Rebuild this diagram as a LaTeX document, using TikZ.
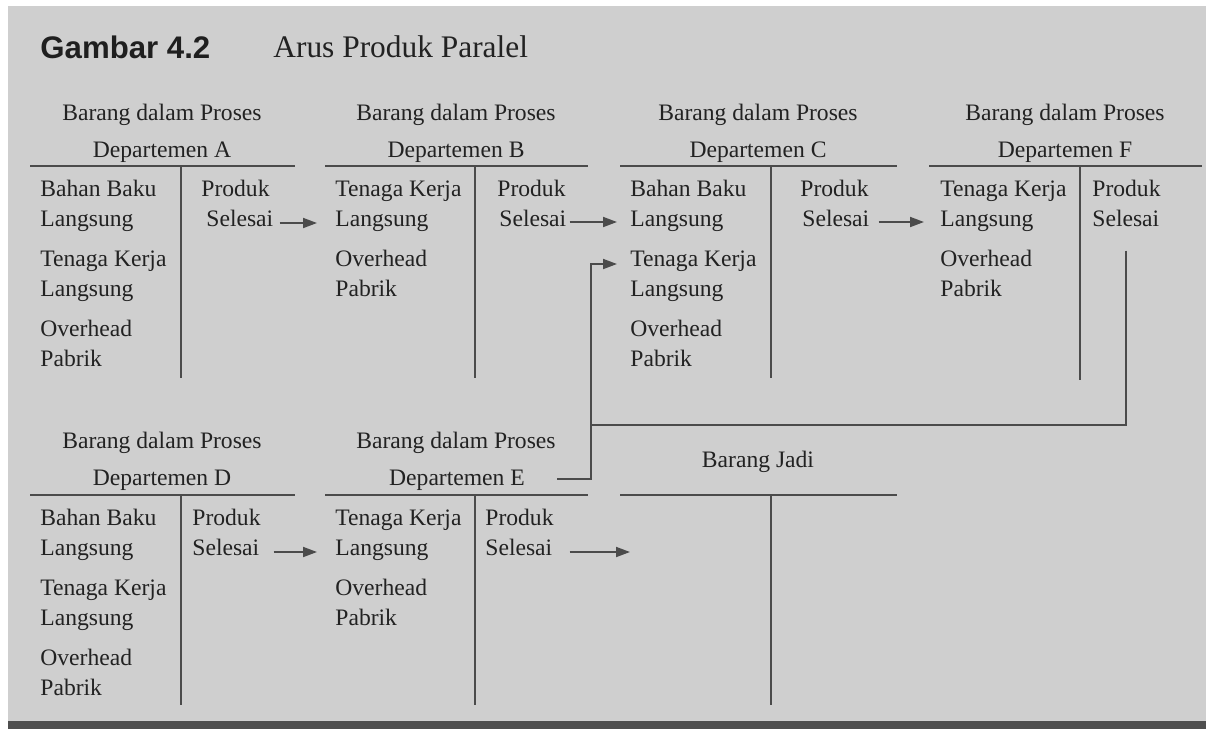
\documentclass[tikz,border=0pt]{standalone}
\usepackage{fontspec}
\setmainfont{Liberation Serif}
\newfontfamily\figsans{Liberation Sans}
\usetikzlibrary{positioning, arrows.meta, calc}
\definecolor{fgBack}{RGB}{207,207,207}
\definecolor{fgBar}{RGB}{78,78,78}
\definecolor{fgInk}{RGB}{34,34,34}
\definecolor{fgLine}{RGB}{75,75,75}

\begin{document}
\begin{tikzpicture}[x=0.5pt, y=-0.5pt,
	acct/.style={font=\fontsize{11.8}{15}\selectfont, text=fgInk, inner sep=0pt, align=left, anchor=base west},
	acctHead/.style={font=\fontsize{11.8}{15}\selectfont, text=fgInk, inner sep=0pt, anchor=base},
	tline/.style={fgLine, line width=1pt},
	flow/.style={fgLine, line width=0.9pt, -{Triangle[length=7pt, width=5pt]}}]
	% frame
	\fill[white] (0,0) rectangle (1206,729);
	\fill[fgBack] (8,6) rectangle (1206,721);
	\fill[fgBar] (8,721) rectangle (1206,729);
	\node[anchor=base west, inner sep=0pt, font=\figsans\bfseries\fontsize{15.6}{18}\selectfont, text=black!88] (figNum) at (40,58) {Gambar 4.2};
	\node[anchor=base west, inner sep=0pt, font=\fontsize{15.7}{18}\selectfont, text=fgInk] (figTitle) at (273,57) {Arus Produk Paralel};

	% Departemen A (two-line texts sit on their last line)
	\node[acctHead] (wipA) at (162,120) {Barang dalam Proses};
	\node[acctHead] (deptA) at (162,157) {Departemen A};
	\draw[tline] (30,166) -- (295,166);
	\draw[tline] (181,166) -- (181,378);
	\node[acct] (bbA) at (40,226) {Bahan Baku\\Langsung};
	\node[acct] (tkA) at (40,296) {Tenaga Kerja\\Langsung};
	\node[acct] (ohA) at (40,366) {Overhead\\Pabrik};
	\node[acct] (prodA) at (201,196) {Produk};
	\node[acct] (selA) at (206,226) {Selesai};

	% Departemen B
	\node[acctHead] (wipB) at (456,120) {Barang dalam Proses};
	\node[acctHead] (deptB) at (456,157) {Departemen B};
	\draw[tline] (325,166) -- (588,166);
	\draw[tline] (475,166) -- (475,378);
	\node[acct] (tkB) at (335,226) {Tenaga Kerja\\Langsung};
	\node[acct] (ohB) at (335,296) {Overhead\\Pabrik};
	\node[acct] (prodB) at (497,196) {Produk};
	\node[acct] (selB) at (499,226) {Selesai};

	% Departemen C
	\node[acctHead] (wipC) at (758,120) {Barang dalam Proses};
	\node[acctHead] (deptC) at (758,157) {Departemen C};
	\draw[tline] (620,166) -- (897,166);
	\draw[tline] (771,166) -- (771,378);
	\node[acct] (bbC) at (630,226) {Bahan Baku\\Langsung};
	\node[acct] (tkC) at (630,296) {Tenaga Kerja\\Langsung};
	\node[acct] (ohC) at (630,366) {Overhead\\Pabrik};
	\node[acct] (prodC) at (800,196) {Produk};
	\node[acct] (selC) at (802,226) {Selesai};

	% Departemen F
	\node[acctHead] (wipF) at (1065,120) {Barang dalam Proses};
	\node[acctHead] (deptF) at (1065,157) {Departemen F};
	\draw[tline] (929,166) -- (1202,166);
	\draw[tline] (1080,166) -- (1080,380);
	\node[acct] (tkF) at (940,226) {Tenaga Kerja\\Langsung};
	\node[acct] (ohF) at (940,296) {Overhead\\Pabrik};
	\node[acct] (prodF) at (1092,196) {Produk};
	\node[acct] (selF) at (1092,226) {Selesai};

	% Departemen D
	\node[acctHead] (wipD) at (162,448) {Barang dalam Proses};
	\node[acctHead] (deptD) at (162,485) {Departemen D};
	\draw[tline] (30,495) -- (295,495);
	\draw[tline] (181,495) -- (181,705);
	\node[acct] (bbD) at (40,555) {Bahan Baku\\Langsung};
	\node[acct] (tkD) at (40,625) {Tenaga Kerja\\Langsung};
	\node[acct] (ohD) at (40,695) {Overhead\\Pabrik};
	\node[acct] (prodD) at (192,525) {Produk};
	\node[acct] (selD) at (192,555) {Selesai};

	% Departemen E
	\node[acctHead] (wipE) at (456,448) {Barang dalam Proses};
	\node[acctHead] (deptE) at (457,485) {Departemen E};
	\draw[tline] (325,495) -- (588,495);
	\draw[tline] (475,495) -- (475,705);
	\node[acct] (tkE) at (335,555) {Tenaga Kerja\\Langsung};
	\node[acct] (ohE) at (335,625) {Overhead\\Pabrik};
	\node[acct] (prodE) at (485,525) {Produk};
	\node[acct] (selE) at (485,555) {Selesai};

	% Barang Jadi
	\node[acctHead] (jadi) at (758,467) {Barang Jadi};
	\coordinate (jadiL) at (620,495);
	\draw[tline] (jadiL) -- (897,495);
	\draw[tline] (771,495) -- (771,705);

	% flows
	\draw[flow] ($(selA.base east)+(6,-3)$) -- ($(tkB.west |- selA.base east)+(-18,-3)$);
	\draw[flow] ($(selB.base east)+(3,-4)$) -- ($(bbC.west |- selB.base east)+(-13,-4)$);
	\draw[flow] ($(selC.base east)+(9,-4)$) -- ($(tkF.west |- selC.base east)+(-16,-4)$);
	\draw[flow] ($(selD.base east)+(14,-3)$) -- ($(tkE.west |- selD.base east)+(-18,-3)$);
	\draw[flow] ($(selE.base east)+(17,-3)$) -- ($(jadiL |- selE.base east)+(10,-3)$);
	\coordinate (merge) at (591,425);
	\draw[tline] ($(selF.south)+(0,24)$) |- (merge);
	\draw[flow] ($(deptE.base east)+(32,-6)$) -| ($(merge |- tkC.base west)+(0,-32)$) -- ($(tkC.base west)+(-13,-32)$);
\end{tikzpicture}
\end{document}
